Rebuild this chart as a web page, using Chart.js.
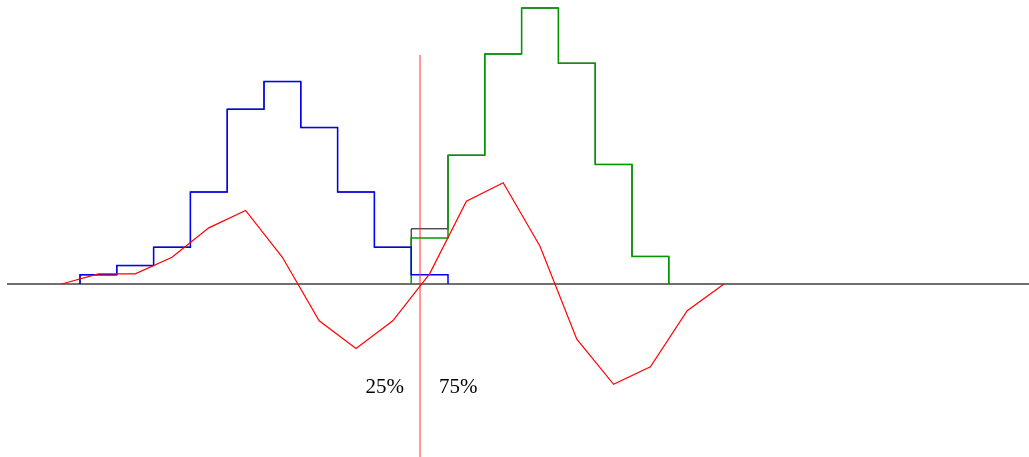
<!DOCTYPE html>
<html>
<head>
<meta charset="utf-8">
<script src="https://cdn.jsdelivr.net/npm/chart.js@4/dist/chart.umd.min.js"></script>
<style>
html, body { margin: 0; padding: 0; background: #fff; }
#wrap { width: 1029px; height: 457px; position: relative; }
</style>
</head>
<body>
<div id="wrap"><canvas id="myChart"></canvas></div>
<script>
// bins are numbered by their left edge, counts per bin
const blueStart = 0;
const blueCounts = [1, 2, 4, 10, 19, 22, 17, 10, 4, 1];
const greenStart = 9;
const greenCounts = [5, 14, 25, 30, 24, 13, 3];
// red curve, one value per bin centre, from bin -1 to bin 17
const redStart = -1;
const redValues = [0, 1.1, 1.1, 2.9, 6.1, 8.0, 2.9, -4.0, -7.0, -4.0, 1.1, 9.0, 11.0, 4.1, -6.0, -10.9, -9.0, -2.9, 0];
// split marker and its labels
const splitAt = 9.24;
const splitLabels = ['25%', '75%'];

// total of both histograms
const totalStart = Math.min(blueStart, greenStart);
const totalEnd = Math.max(blueStart + blueCounts.length, greenStart + greenCounts.length);
const totalCounts = [];
for (let b = totalStart; b < totalEnd; b++) {
	const bi = b - blueStart, gi = b - greenStart;
	totalCounts.push((blueCounts[bi] || 0) + (greenCounts[gi] || 0));
}

// outline of a histogram: horizontal to the next edge, then the vertical step
function stepPoints(start, counts) {
	const pts = [{x: start, y: 0}];
	counts.forEach((c, i) => pts.push({x: start + i, y: c}));
	pts.push({x: start + counts.length, y: 0});
	return pts;
}

const redPoints = redValues.map((v, i) => ({x: redStart + i + 0.5, y: v}));

const xMin = -80 / 36.8, xMax = 949 / 36.8;
const yMin = -173 / 9.2, yMax = 284 / 9.2;

const labelPlugin = {
	id: 'splitLabels',
	afterDatasetsDraw(chart) {
		const ctx = chart.ctx;
		const xs = chart.scales.x, ys = chart.scales.y;
		const px = xs.getPixelForValue(splitAt);
		const py = ys.getPixelForValue(-11.85);
		ctx.save();
		ctx.fillStyle = '#000';
		ctx.font = '21px "Liberation Serif", serif';
		ctx.textBaseline = 'alphabetic';
		ctx.textAlign = 'right';
		ctx.fillText(splitLabels[0], px - 16, py);
		ctx.textAlign = 'left';
		ctx.fillText(splitLabels[1], px + 19, py);
		ctx.restore();
	}
};

const ctx = document.getElementById('myChart');

const myChart = new Chart(ctx, {
	type: 'line',
	data: {
		datasets: [
			{
				data: redPoints,
				borderColor: '#ff0000',
				borderWidth: 1.2,
				pointRadius: 0,
				tension: 0
			},
			{
				data: [{x: splitAt, y: yMin - 5}, {x: splitAt, y: 24.9}],
				borderColor: 'rgba(255, 40, 40, 0.8)',
				borderWidth: 1.2,
				pointRadius: 0
			},
			{
				data: stepPoints(blueStart, blueCounts),
				borderColor: '#0000ff',
				borderWidth: 1.5,
				pointRadius: 0,
				stepped: 'before'
			},
			{
				data: stepPoints(greenStart, greenCounts),
				borderColor: '#009a00',
				borderWidth: 1.5,
				pointRadius: 0,
				stepped: 'before'
			},
			{
				data: stepPoints(totalStart, totalCounts),
				borderColor: '#000000',
				borderWidth: 1,
				pointRadius: 0,
				stepped: 'before'
			},
			{
				data: [{x: -73 / 36.8, y: 0}, {x: xMax + 1, y: 0}],
				borderColor: '#707070',
				borderWidth: 1.8,
				pointRadius: 0
			}
		]
	},
	options: {
		responsive: true,
		maintainAspectRatio: false,
		animation: false,
		layout: { padding: 0 },
		plugins: {
			legend: { display: false },
			tooltip: { enabled: false }
		},
		scales: {
			x: { type: 'linear', min: xMin, max: xMax, display: false },
			y: { type: 'linear', min: yMin, max: yMax, display: false }
		}
	},
	plugins: [labelPlugin]
});
</script>
</body>
</html>
